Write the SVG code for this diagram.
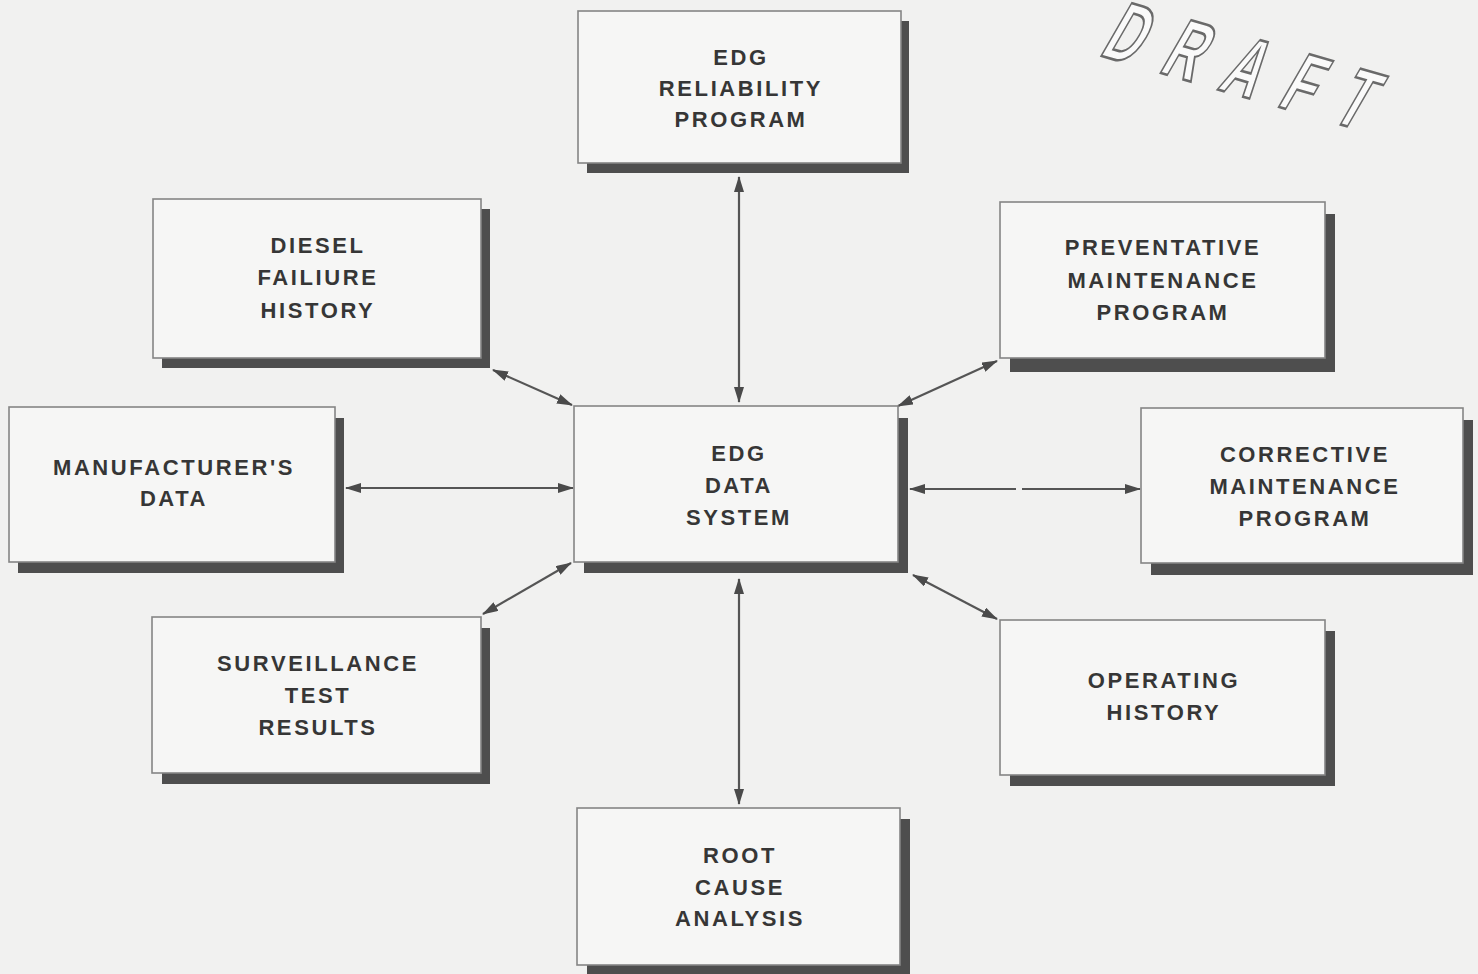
<svg xmlns="http://www.w3.org/2000/svg" width="1478" height="974" viewBox="0 0 1478 974">
<defs>
<style>
.bx{fill:#f6f6f5;stroke:#858585;stroke-width:1.6}
.sh{fill:#4e4e4e}
.t{font-family:"Liberation Sans",Arial,sans-serif;font-weight:bold;font-size:22px;letter-spacing:2.6px;fill:#363636;text-anchor:middle}
.c{stroke:#555;stroke-width:2.2;fill:none}
.dr{font-family:"Liberation Sans",Arial,sans-serif;font-weight:bold;font-size:86px;fill:#fafafa;stroke:#6a6a6a;stroke-width:2.6}
</style>
<marker id="ah" viewBox="0 0 16 10" refX="15" refY="5" markerWidth="16" markerHeight="10" markerUnits="userSpaceOnUse" orient="auto-start-reverse">
<path d="M0,0 L16,5 L0,10 z" fill="#4a4a4a"/>
</marker>
</defs>
<rect width="1478" height="974" fill="#f1f1f0"/>

<g id="draft">
<text class="dr" transform="translate(1098,55) rotate(16) skewX(-14) scale(0.58,1)" letter-spacing="44">DRAFT</text>
</g>

<g id="connectors">
<line class="c" x1="739" y1="177" x2="739" y2="402" marker-start="url(#ah)" marker-end="url(#ah)"/>
<line class="c" x1="739" y1="579" x2="739" y2="804" marker-start="url(#ah)" marker-end="url(#ah)"/>
<line class="c" x1="493" y1="370" x2="572" y2="405" marker-start="url(#ah)" marker-end="url(#ah)"/>
<line class="c" x1="997" y1="361" x2="898" y2="406" marker-start="url(#ah)" marker-end="url(#ah)"/>
<line class="c" x1="346" y1="488" x2="573" y2="488" marker-start="url(#ah)" marker-end="url(#ah)"/>
<line class="c" x1="910" y1="489" x2="1016" y2="489" marker-start="url(#ah)"/>
<line class="c" x1="1022" y1="489" x2="1140" y2="489" marker-end="url(#ah)"/>
<line class="c" x1="483" y1="614" x2="571" y2="563" marker-start="url(#ah)" marker-end="url(#ah)"/>
<line class="c" x1="913" y1="575" x2="997" y2="619" marker-start="url(#ah)" marker-end="url(#ah)"/>
</g>

<g id="edg-reliability">
<rect class="sh" x="587" y="21" width="322" height="152"/>
<rect class="bx" x="578" y="11" width="323" height="152"/>
<text class="t" x="741" y="65">EDG</text>
<text class="t" x="741" y="96">RELIABILITY</text>
<text class="t" x="741" y="127">PROGRAM</text>
</g>

<g id="diesel-failure">
<rect class="sh" x="162" y="209" width="328" height="159"/>
<rect class="bx" x="153" y="199" width="328" height="159"/>
<text class="t" x="318" y="253">DIESEL</text>
<text class="t" x="318" y="285">FAILIURE</text>
<text class="t" x="318" y="318">HISTORY</text>
</g>

<g id="preventative">
<rect class="sh" x="1010" y="214" width="325" height="158"/>
<rect class="bx" x="1000" y="202" width="325" height="156"/>
<text class="t" x="1163" y="255">PREVENTATIVE</text>
<text class="t" x="1163" y="288">MAINTENANCE</text>
<text class="t" x="1163" y="320">PROGRAM</text>
</g>

<g id="manufacturer">
<rect class="sh" x="18" y="418" width="326" height="155"/>
<rect class="bx" x="9" y="407" width="326" height="155"/>
<text class="t" x="174" y="475">MANUFACTURER'S</text>
<text class="t" x="174" y="506">DATA</text>
</g>

<g id="edg-data">
<rect class="sh" x="584" y="418" width="324" height="155"/>
<rect class="bx" x="574" y="406" width="324" height="156"/>
<text class="t" x="739" y="461">EDG</text>
<text class="t" x="739" y="493">DATA</text>
<text class="t" x="739" y="525">SYSTEM</text>
</g>

<g id="corrective">
<rect class="sh" x="1151" y="420" width="322" height="155"/>
<rect class="bx" x="1141" y="408" width="322" height="155"/>
<text class="t" x="1305" y="462">CORRECTIVE</text>
<text class="t" x="1305" y="494">MAINTENANCE</text>
<text class="t" x="1305" y="526">PROGRAM</text>
</g>

<g id="surveillance">
<rect class="sh" x="162" y="628" width="328" height="156"/>
<rect class="bx" x="152" y="617" width="329" height="156"/>
<text class="t" x="318" y="671">SURVEILLANCE</text>
<text class="t" x="318" y="703">TEST</text>
<text class="t" x="318" y="735">RESULTS</text>
</g>

<g id="operating">
<rect class="sh" x="1010" y="631" width="325" height="155"/>
<rect class="bx" x="1000" y="620" width="325" height="155"/>
<text class="t" x="1164" y="688">OPERATING</text>
<text class="t" x="1164" y="720">HISTORY</text>
</g>

<g id="root-cause">
<rect class="sh" x="587" y="819" width="323" height="160"/>
<rect class="bx" x="577" y="808" width="323" height="157"/>
<text class="t" x="740" y="863">ROOT</text>
<text class="t" x="740" y="895">CAUSE</text>
<text class="t" x="740" y="926">ANALYSIS</text>
</g>
</svg>
